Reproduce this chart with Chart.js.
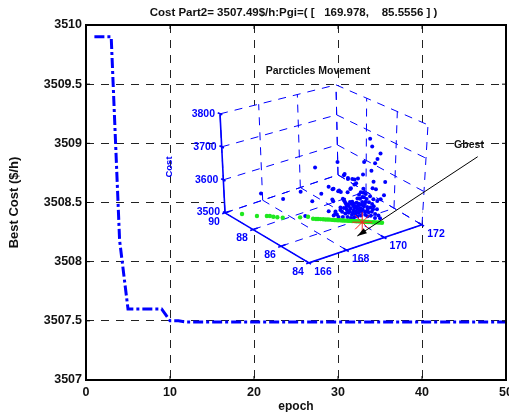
<!DOCTYPE html>
<html>
<head>
<meta charset="utf-8">
<title>Best cost</title>
<style>
  html, body { margin: 0; padding: 0; background: #fff; }
  canvas { display: block; }
</style>
<script src="https://cdn.jsdelivr.net/npm/chart.js@4/dist/chart.umd.min.js"></script>
</head>
<body>
<canvas id="costChart" width="509" height="412"></canvas>
<script>
// --- Main curve ---
const epochs = [1, 2, 3, 4, 5, 6, 7, 8, 9, 10, 11, 12, 15, 20, 30, 40, 50];
const bestCost = [3509.9, 3509.9, 3509.9, 3508.18, 3507.6, 3507.6, 3507.6, 3507.6, 3507.6, 3507.5, 3507.5, 3507.49, 3507.49, 3507.49, 3507.49, 3507.49, 3507.49];
const xTicks = [0, 10, 20, 30, 40, 50];
const yTicks = [3507, 3507.5, 3508, 3508.5, 3509, 3509.5, 3510];

// --- Inset: particle positions (Pg1, Pg2, cost) ---
const pg1Ticks = [166, 168, 170, 172];
const pg2Ticks = [84, 86, 88, 90];
const costTicks = [3500, 3600, 3700, 3800];
const gbest = [169.978, 85.5556, 3507.49];

const swarmPg2 = 85.56;
const swarmPg1 = [170.27, 170.39, 170.84, 170.69, 170.57, 169.99, 168.59, 170.39, 168.94, 169.16, 169.39, 169.69, 169.95, 171.14, 170.52, 169.51, 169.30, 170.48, 170.66, 168.41, 168.66, 168.80, 169.99, 169.86, 170.13, 169.77, 170.04, 169.69, 171.10, 170.93, 170.75, 168.36, 168.92,
  166.68, 167.42, 167.30, 167.77, 168.15, 168.36, 168.71, 168.41, 168.98, 169.16, 169.51, 169.60, 169.16, 169.33, 166.94, 168.54, 168.80, 168.18, 168.98, 169.51, 169.95,
  169.07, 169.24, 169.42, 169.60, 169.77, 169.95, 170.13, 170.31, 170.48, 168.98, 169.16, 169.33, 169.51, 169.69, 169.86, 170.04, 170.22, 170.39, 170.57, 170.75, 168.89, 169.07, 169.24, 169.42, 169.60, 169.77, 169.95, 170.13, 170.31, 170.48, 170.66, 170.84, 168.62, 168.45, 168.71, 168.94, 169.19, 169.37, 169.54, 170.25, 170.43, 170.66, 170.93, 169.83, 170.00, 169.65, 169.47, 169.30, 169.12, 170.18, 170.36, 170.54,
  169.01, 169.19, 169.39, 169.54, 169.74, 169.90, 170.09, 170.25, 170.54, 169.10, 169.30, 169.47, 169.65, 169.83, 169.99, 168.80, 168.54, 170.13, 169.90, 169.72];
const swarmCost = [3752, 3727, 3699, 3685, 3674, 3687, 3709, 3654, 3665, 3650, 3646, 3643, 3650, 3607, 3619, 3628, 3618, 3600, 3594, 3634, 3622, 3618, 3607, 3599, 3589, 3593, 3581, 3583, 3568, 3559, 3557, 3603, 3596,
  3653, 3711, 3616, 3630, 3644, 3633, 3624, 3597, 3668, 3653, 3643, 3630, 3611, 3620, 3580, 3560, 3572, 3572, 3591, 3571, 3583,
  3580, 3569, 3578, 3562, 3566, 3568, 3566, 3561, 3553, 3568, 3558, 3560, 3551, 3553, 3551, 3554, 3548, 3544, 3544, 3532, 3558, 3550, 3549, 3540, 3539, 3539, 3538, 3536, 3531, 3529, 3519, 3511, 3555, 3555, 3546, 3542, 3537, 3531, 3530, 3520, 3518, 3507, 3501, 3580, 3595, 3571, 3565, 3580, 3572, 3573, 3578, 3566,
  3587, 3574, 3573, 3558, 3560, 3561, 3560, 3540, 3536, 3564, 3552, 3545, 3545, 3545, 3545, 3565, 3565, 3527, 3529, 3529];

// the few stragglers out towards the Pg2 = 90 side
const strayPg1 = [166.13, 166.53];
const strayPg2 = [87.56, 86.56];
const strayCost = [3613, 3613];

// green particles, all sitting about on the floor
const greenPg1 = [166.38, 166.77, 167.11, 167.21, 167.29, 167.39, 167.55, 168.16, 168.46, 168.52, 168.67, 168.83, 168.98, 169.10, 169.22, 169.35, 169.47, 169.59, 169.71, 169.84, 169.96, 170.08, 170.20, 170.33, 170.45, 170.57, 170.63,
  168.60, 168.75, 168.90, 169.04, 169.16, 169.28, 169.41, 169.53, 169.65, 169.78, 169.90, 170.02, 170.14, 170.26, 170.39, 170.51];
const greenPg2 = [89.29, 88.75, 88.50, 88.42, 88.28, 88.13, 87.96, 87.54, 87.38, 87.10, 86.95, 86.80, 86.66, 86.52, 86.40, 86.28, 86.16, 86.04, 85.92, 85.80, 85.68, 85.55, 85.43, 85.31, 85.20, 85.08, 85.02,
  87.00, 86.88, 86.72, 86.60, 86.45, 86.34, 86.22, 86.10, 85.98, 85.86, 85.74, 85.62, 85.49, 85.37, 85.26, 85.14];
const greenCost = 3507;

// Gbest pointer line, in main axis units
const arrowEpoch = [46.63, 32.3];
const arrowCost = [3508.887, 3508.217];

// --- Project inset values on to the main axes ---
// box corners, in main axis units
const boxOrigin = { x: 26.55, y: 3507.99 };
const boxPg1 = { x: 13.45, y: 0.321 };
const boxPg2 = { x: -10.0, y: 0.4225 };
const boxUp = [
  [{ x: 0.357, y: 0.921 }, { x: -0.595, y: 0.8366 }],   // Pg1=166: Pg2=84, Pg2=90
  [{ x: 0.714, y: 0.845 }, { x: -0.238, y: 0.7606 }]    // Pg1=172: Pg2=84, Pg2=90
];

function project(pg1, pg2, cost) {
  const u = (pg1 - 166) / 6, v = (pg2 - 84) / 6, w = (cost - 3500) / 300;
  const mix = (k) => (1 - u) * ((1 - v) * boxUp[0][0][k] + v * boxUp[0][1][k]) + u * ((1 - v) * boxUp[1][0][k] + v * boxUp[1][1][k]);
  return {
    x: boxOrigin.x + u * boxPg1.x + v * boxPg2.x + w * mix('x'),
    y: boxOrigin.y + u * boxPg1.y + v * boxPg2.y + w * mix('y')
  };
}

const GAP = { x: 0, y: null };

// dashed grid on floor and the two back walls
const insetGrid = [];
function gridLine(a, b) {
  insetGrid.push(project(...a), project(...b), GAP);
}
const costTop = 3800, costLow = 3500;
pg1Ticks.forEach(p => {
  gridLine([p, 84, costLow], [p, 90, costLow]);
  gridLine([p, 90, costLow], [p, 90, costTop]);
});
pg2Ticks.forEach(q => {
  gridLine([166, q, costLow], [172, q, costLow]);
  gridLine([172, q, costLow], [172, q, costTop]);
});
costTicks.forEach(c => {
  gridLine([166, 90, c], [172, 90, c]);
  gridLine([172, 90, c], [172, 84, c]);
});

// solid axis lines plus their tick stubs
const insetAxes = [
  project(166, 90, costTop), project(166, 90, costLow), project(166, 84, costLow), project(172, 84, costLow), GAP
];
costTicks.forEach(c => insetAxes.push(project(166, 90.15, c), project(166, 89.85, c), GAP));
pg2Ticks.forEach(q => insetAxes.push(project(165.85, q, costLow), project(166.25, q, costLow), GAP));
pg1Ticks.forEach(p => insetAxes.push(project(p, 83.85, costLow), project(p, 84.25, costLow), GAP));

const swarmPoints = swarmPg1.map((p, i) => project(p, swarmPg2, swarmCost[i]));
strayPg1.forEach((p, i) => swarmPoints.push(project(p, strayPg2[i], strayCost[i])));
const greenPoints = greenPg1.map((p, i) => project(p, greenPg2[i], greenCost));

const FONT = "'Liberation Sans', Arial, sans-serif";
const BLUE = '#0000ff';

// --- Everything the scales do not draw themselves ---
const extrasPlugin = {
  id: 'extras',
  // white walls of the inset hide the main grid
  beforeDatasetsDraw(chart) {
    const { ctx, scales: { x, y } } = chart;
    const hull = [[166, 90, costTop], [172, 90, costTop], [172, 84, costTop], [172, 84, costLow], [166, 84, costLow], [166, 90, costLow]];
    ctx.save();
    ctx.fillStyle = '#fff';
    ctx.beginPath();
    hull.forEach((c, i) => {
      const pt = project(...c);
      if (i === 0) ctx.moveTo(x.getPixelForValue(pt.x), y.getPixelForValue(pt.y));
      else ctx.lineTo(x.getPixelForValue(pt.x), y.getPixelForValue(pt.y));
    });
    ctx.closePath();
    ctx.fill();
    ctx.restore();
  },
  afterDraw(chart) {
    const { ctx, chartArea: a, scales: { x, y } } = chart;
    ctx.save();

    // box and inward ticks
    ctx.strokeStyle = '#000';
    ctx.lineWidth = 2;
    ctx.strokeRect(a.left, a.top, a.right - a.left, a.bottom - a.top);
    ctx.lineWidth = 1;
    ctx.beginPath();
    xTicks.forEach(t => {
      const px = x.getPixelForValue(t);
      ctx.moveTo(px, a.bottom); ctx.lineTo(px, a.bottom - 4);
      ctx.moveTo(px, a.top); ctx.lineTo(px, a.top + 4);
    });
    yTicks.forEach(t => {
      const py = y.getPixelForValue(t);
      ctx.moveTo(a.left, py); ctx.lineTo(a.left + 4, py);
      ctx.moveTo(a.right, py); ctx.lineTo(a.right - 4, py);
    });
    ctx.stroke();

    // arrow head at the end of the Gbest pointer
    const tipX = x.getPixelForValue(arrowEpoch[1]), tipY = y.getPixelForValue(arrowCost[1]);
    const ang = Math.atan2(y.getPixelForValue(arrowCost[0]) - tipY, x.getPixelForValue(arrowEpoch[0]) - tipX);
    ctx.fillStyle = '#000';
    ctx.beginPath();
    ctx.moveTo(tipX, tipY);
    ctx.lineTo(tipX + 10 * Math.cos(ang - 0.3), tipY + 10 * Math.sin(ang - 0.3));
    ctx.lineTo(tipX + 10 * Math.cos(ang + 0.3), tipY + 10 * Math.sin(ang + 0.3));
    ctx.closePath();
    ctx.fill();

    // title
    ctx.fillStyle = '#111';
    ctx.textBaseline = 'middle';
    ctx.textAlign = 'center';
    ctx.font = 'bold 11.5px ' + FONT;
    ctx.fillText('Cost Part2= ' + gbest[2] + '$/h:Pgi=( [   ' + gbest[0] + ',    ' + gbest[1] + ' ] )', 293.5, 13);

    // inset text
    ctx.font = 'bold 10.5px ' + FONT;
    ctx.fillText('Parcticles Movement', 318, 71);
    ctx.fillText('Gbest', 469, 145);

    const label = (text, c, dx, dy, align) => {
      const pt = project(...c);
      ctx.textAlign = align;
      ctx.fillText(text, x.getPixelForValue(pt.x) + dx, y.getPixelForValue(pt.y) + dy);
    };
    ctx.fillStyle = BLUE;
    ctx.font = 'bold 10.5px ' + FONT;
    costTicks.forEach(c => label(String(c), [166, 90, c], -5, c === 3500 ? -1 : 0, 'right'));
    pg2Ticks.forEach(q => label(String(q), [166, q, costLow], -11, 9, 'center'));
    pg1Ticks.forEach(p => label(String(p), [p, 84, costLow], 14, 9, 'center'));

    ctx.font = 'bold 9.5px ' + FONT;
    ctx.textAlign = 'center';
    ctx.translate(169, 167);
    ctx.rotate(-Math.PI / 2);
    ctx.fillText('Cost', 0, 0);
    ctx.restore();
  }
};

new Chart(document.getElementById('costChart'), {
  type: 'scatter',
  data: {
    datasets: [
      {
        label: 'Best cost',
        data: epochs.map((e, i) => ({ x: e, y: bestCost[i] })),
        showLine: true,
        borderColor: BLUE,
        borderWidth: 3,
        borderDash: [10, 3, 3, 3],
        pointRadius: 0,
        order: 1
      },
      {
        label: 'Inset grid',
        data: insetGrid,
        showLine: true,
        borderColor: BLUE,
        borderWidth: 1,
        borderDash: [8, 7],
        pointRadius: 0,
        order: 9
      },
      {
        label: 'Inset axes',
        data: insetAxes,
        showLine: true,
        borderColor: BLUE,
        borderWidth: 1.6,
        pointRadius: 0,
        order: 8
      },
      {
        label: 'Swarm',
        data: swarmPoints,
        pointRadius: 2,
        pointBackgroundColor: BLUE,
        pointBorderWidth: 0,
        order: 7
      },
      {
        label: 'Green swarm',
        data: greenPoints,
        pointRadius: 2.2,
        pointBackgroundColor: '#1fe81f',
        pointBorderWidth: 0,
        order: 6
      },
      {
        label: 'Gbest',
        data: [project(...gbest)],
        pointStyle: 'star',
        pointRadius: 10,
        pointBorderColor: '#ff2020',
        pointBorderWidth: 1,
        order: 5
      },
      {
        label: 'Gbest pointer',
        data: arrowEpoch.map((e, i) => ({ x: e, y: arrowCost[i] })),
        showLine: true,
        borderColor: '#000',
        borderWidth: 1,
        pointRadius: 0,
        order: 4
      }
    ]
  },
  options: {
    responsive: false,
    animation: false,
    layout: { autoPadding: false, padding: { top: 25, right: 3, left: 0, bottom: 0 } },
    plugins: { legend: { display: false }, tooltip: { enabled: false } },
    scales: {
      x: {
        type: 'linear',
        min: 0,
        max: 50,
        afterBuildTicks(scale) { scale.ticks = xTicks.map(v => ({ value: v })); },
        afterFit(scale) {
          scale.height = 32;
          scale.paddingLeft = 0;
          scale.paddingRight = 0;
        },
        grid: { color: '#222', lineWidth: 1, drawTicks: false, z: 0 },
        border: { dash: [8, 7], display: false },
        ticks: { padding: 5, maxRotation: 0, autoSkip: false, color: '#111', font: { family: FONT, weight: 'bold', size: 12.5 } },
        title: { display: true, text: 'epoch', color: '#111', padding: { top: 0, bottom: -2 }, font: { family: FONT, weight: 'bold', size: 12 } }
      },
      y: {
        type: 'linear',
        min: 3507,
        max: 3510,
        afterBuildTicks(scale) { scale.ticks = yTicks.map(v => ({ value: v })); },
        afterFit(scale) {
          scale.width = 86;
          scale.paddingTop = 0;
          scale.paddingBottom = 0;
        },
        grid: { color: '#222', lineWidth: 1, drawTicks: false },
        border: { dash: [8, 7], display: false },
        ticks: {
          padding: 4,
          autoSkip: false,
          color: '#111',
          font: { family: FONT, weight: 'bold', size: 12.5 },
          callback: v => String(v)
        },
        title: { display: true, text: 'Best Cost ($/h)', color: '#111', padding: { top: 7, bottom: 0 }, font: { family: FONT, weight: 'bold', size: 13 } }
      }
    }
  },
  plugins: [extrasPlugin]
});
</script>
</body>
</html>
